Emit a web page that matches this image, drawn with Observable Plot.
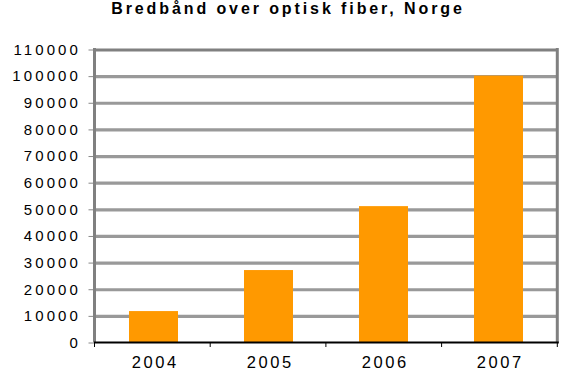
<!DOCTYPE html>
<html><head><meta charset="utf-8">
<script src="https://cdn.jsdelivr.net/npm/d3@7"></script>
<script src="https://cdn.jsdelivr.net/npm/@observablehq/plot@0.6"></script>
<style>
body{margin:0;background:#fff;}
#wrap{position:relative;width:573px;height:377px;background:#fff;}
#title{position:absolute;left:0;top:1px;width:573px;padding-left:3px;box-sizing:border-box;text-align:center;font:bold 16px "Liberation Sans",Arial,sans-serif;letter-spacing:2.9px;line-height:16px;color:#000;}
svg{display:block;}
</style></head><body>
<div id="wrap"><div id="title"></div></div>
<script>
const title = "Bredbånd over optisk fiber, Norge";
const years = ["2004", "2005", "2006", "2007"];
const values = [11800, 27200, 51200, 100200];
const yTicks = [0, 10000, 20000, 30000, 40000, 50000, 60000, 70000, 80000, 90000, 100000, 110000];

const data = years.map((year, i) => ({year, value: values[i]}));
document.getElementById("title").textContent = title;

const frameMark = (index, scales, vals, dims) => {
  const g = d3.create("svg:g");
  const left = dims.marginLeft, right = dims.width - dims.marginRight;
  const top = dims.marginTop, bottom = dims.height - dims.marginBottom;
  g.append("line").attr("x1", left).attr("x2", left).attr("y1", top - 1.5).attr("y2", bottom)
    .attr("stroke", "#808080").attr("stroke-width", 3);
  g.append("line").attr("x1", right).attr("x2", right).attr("y1", top - 1.5).attr("y2", bottom)
    .attr("stroke", "#808080").attr("stroke-width", 3);
  const step = (right - left) / years.length;
  for (let i = 0; i <= years.length; i++) {
    const x = left + i * step;
    g.append("line").attr("x1", x).attr("x2", x).attr("y1", bottom).attr("y2", bottom + 4.5)
      .attr("stroke", "#000").attr("stroke-width", 1);
  }
  g.append("line").attr("x1", left - 0.5).attr("x2", right + 1.5).attr("y1", bottom).attr("y2", bottom)
    .attr("stroke", "#000").attr("stroke-width", 1.8);
  return g.node();
};

const chart = Plot.plot({
  width: 573,
  height: 377,
  marginTop: 49.5,
  marginBottom: 34.5,
  marginLeft: 94.5,
  marginRight: 15.7,
  style: {fontFamily: "'Liberation Sans', Arial, sans-serif", background: "transparent", color: "#000"},
  x: {domain: years, paddingInner: 0.575, paddingOuter: 0.2875, label: null},
  y: {domain: [0, 110000], label: null},
  marks: [
    Plot.ruleY(yTicks.filter(d => d > 0 && d < 110000), {stroke: "#999999", strokeWidth: 3.2}),
    Plot.ruleY([110000], {stroke: "#808080", strokeWidth: 3}),
    Plot.barY(data, {x: "year", y: "value", fill: "#FF9900"}),
    Plot.axisY({ticks: yTicks, tickSize: 6, tickPadding: 8, stroke: "#888", tickFormat: d3.format("d"), label: null, fontSize: 15, fill: "#000"}),
    Plot.axisX({tickSize: 0, tickPadding: 13.5, label: null, fontSize: 16.5, fill: "#000"}),
    frameMark
  ]
});

chart.querySelectorAll('g[aria-label="y-axis tick label"]').forEach(g => {
  g.setAttribute("font-size", 15);
  g.style.letterSpacing = "3.1px";
});
chart.querySelectorAll('g[aria-label="x-axis tick label"]').forEach(g => {
  g.setAttribute("font-size", 16.5);
  g.style.letterSpacing = "2.6px";
  g.querySelectorAll("text").forEach(t => t.setAttribute("dx", 1.3));
});

document.getElementById("wrap").prepend(chart);
</script>
</body></html>
